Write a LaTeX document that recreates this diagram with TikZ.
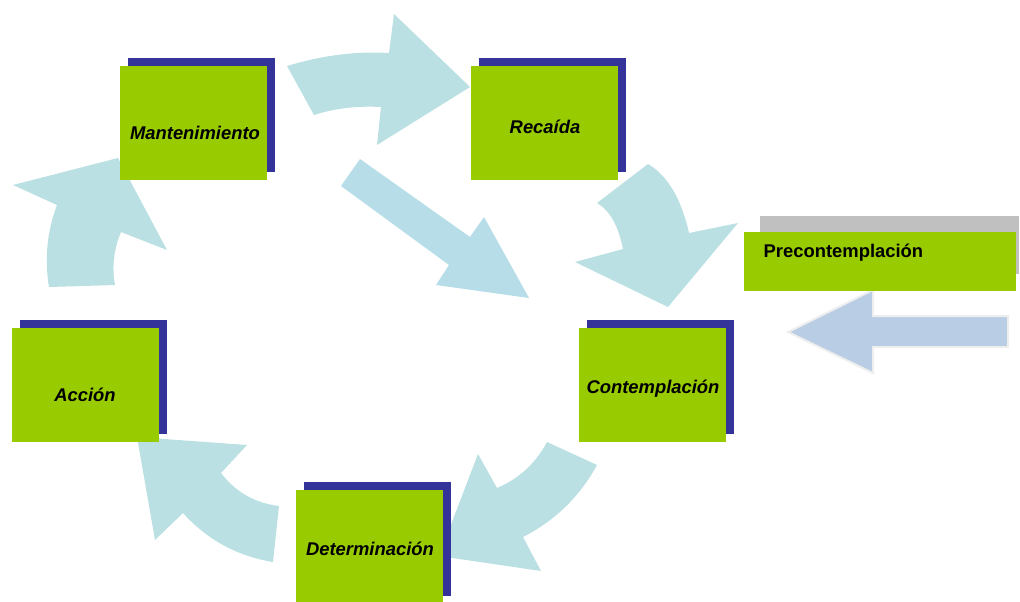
\documentclass[tikz,border=0pt]{standalone}
\usepackage{fontspec}
\setmainfont{Liberation Sans}
\usepackage{tikz}
\usetikzlibrary{positioning}
\definecolor{StageGreen}{RGB}{153,204,0}
\definecolor{StageShadow}{RGB}{51,51,153}
\definecolor{CycleArrow}{RGB}{187,224,227}
\definecolor{DiagArrow}{RGB}{183,221,232}
\definecolor{EntryArrow}{RGB}{185,205,229}
\definecolor{EntryRim}{RGB}{238,238,238}
\definecolor{PreShadow}{RGB}{192,192,192}

\begin{document}
\begin{tikzpicture}[x=0.75pt,y=-0.75pt]
  \path[use as bounding box] (0,0) rectangle (1020,601);

  % curved arrows of the cycle
  \fill[CycleArrow] (287,66) .. controls (322.3,55.3) and (356.3,51) .. (389,53) -- (394,14) -- (470,87) -- (377,145) -- (381,107) .. controls (357,105.7) and (334.7,108.3) .. (314,115) -- cycle;
  \fill[CycleArrow] (648,164) .. controls (667.7,175.7) and (681.3,198.7) .. (689,233) -- (738,223) -- (668,307) -- (575,262) -- (623,249) .. controls (618.3,225.7) and (609.7,210.3) .. (597,203) -- cycle;
  \fill[CycleArrow] (597,465) .. controls (579.7,496.7) and (555,520.7) .. (523,537) -- (541,571) -- (439,556) -- (478,454) -- (497,488) .. controls (519,478.7) and (535.7,463.3) .. (547,442) -- cycle;
  \fill[CycleArrow] (279,506) .. controls (255,503.1) and (235.7,492.1) .. (221,473) -- (247,445) -- (137,437) -- (155,540) -- (183,513) .. controls (207.3,539.9) and (237.3,556.2) .. (273,562) -- cycle;
  \fill[CycleArrow] (49,287) .. controls (44.3,259) and (47,231.7) .. (57,205) -- (13,185) -- (118,158) -- (167,250) -- (121,232) .. controls (113.7,249.3) and (111.7,267) .. (115,285) -- cycle;

  % straight arrow into the middle
  \fill[DiagArrow] (360,159) -- (470,237) -- (484,217) -- (529,298) -- (436,285) -- (449,265) -- (341,186) -- cycle;

  % entry arrow
  \draw[EntryRim, fill=EntryArrow, line width=1.5pt, line join=miter] (1008,316) -- (873,316) -- (873,290) -- (788,332) -- (873,373) -- (873,347) -- (1008,347) -- cycle;

  % stages
  \foreach \name/\bx/\by/\tx/\ty/\label in {mant/120/66/195/133/Mantenimiento,
      reca/471/66/545/127/Recaída,
      cont/579/328/653/389/Contemplación,
      acci/12/328/85/395/Acción,
      dete/296/490/370/549/Determinación}{
    \fill[StageShadow] (\bx+8,\by-8) rectangle ++(147,114);
    \fill[StageGreen] (\bx,\by) rectangle ++(147,114);
    \node[font=\fontsize{13.8}{16}\selectfont\bfseries\itshape] (\name) at (\tx,\ty) {\label};
  }

  \fill[PreShadow] (760,216) rectangle (1019,274);
  \fill[StageGreen] (744,232) rectangle (1016,291);
  \node[anchor=west, font=\fontsize{13.8}{16}\selectfont\bfseries] (prec) at (759,253) {Precontemplación};
\end{tikzpicture}
\end{document}
